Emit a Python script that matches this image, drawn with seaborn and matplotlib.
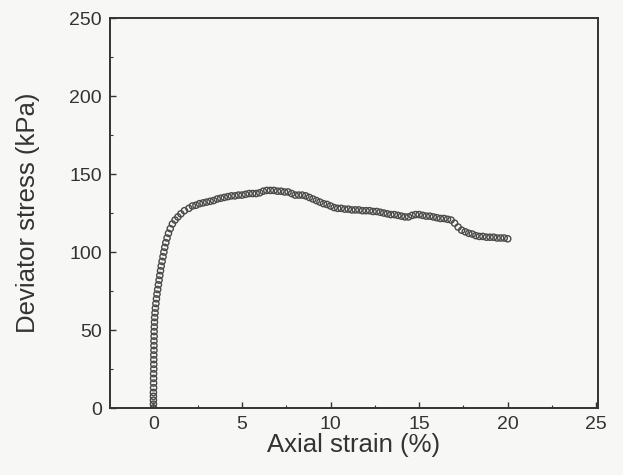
import matplotlib
matplotlib.use("Agg")
import matplotlib.pyplot as plt
from matplotlib.ticker import MultipleLocator
import seaborn as sns
import pandas as pd

strain = [0.00, 0.00, 0.00, 0.00, 0.00, 0.01, 0.01, 0.01, 0.01, 0.02, 0.02, 0.02, 0.02,
          0.03, 0.03, 0.03, 0.04, 0.04, 0.05, 0.06, 0.07, 0.09, 0.11, 0.14, 0.17, 0.20,
          0.24, 0.28, 0.32, 0.36, 0.40, 0.44, 0.49, 0.54, 0.59, 0.64, 0.70, 0.77, 0.85,
          0.95, 1.07, 1.22, 1.38, 1.55, 1.75,
          2.0, 2.2, 2.4, 2.6, 2.8, 3.0, 3.2, 3.4, 3.6, 3.8,
          4.0, 4.2, 4.4, 4.6, 4.8, 5.0, 5.2, 5.4, 5.6, 5.8,
          6.0, 6.2, 6.4, 6.6, 6.8, 7.0, 7.2, 7.4, 7.6, 7.8,
          8.0, 8.2, 8.4, 8.6, 8.8, 9.0, 9.2, 9.4, 9.6, 9.8,
          10.0, 10.2, 10.4, 10.6, 10.8, 11.0, 11.2, 11.4, 11.6, 11.8,
          12.0, 12.2, 12.4, 12.6, 12.8, 13.0, 13.2, 13.4, 13.6, 13.8,
          14.0, 14.2, 14.4, 14.6, 14.8, 15.0, 15.2, 15.4, 15.6, 15.8,
          16.0, 16.2, 16.4, 16.6, 16.8, 17.0, 17.2, 17.4, 17.6, 17.8,
          18.0, 18.2, 18.4, 18.6, 18.8, 19.0, 19.2, 19.4, 19.6, 19.8,
          20.0]
stress = [0, 2.5, 5, 7.5, 10, 13, 16, 19, 22, 25, 28, 31, 34,
          37, 40, 43, 46, 49, 52, 55, 58, 61, 64, 67, 70, 73,
          76, 79, 82, 85, 88, 91, 94, 97, 100, 103, 106, 109, 112,
          115, 118, 120.5, 122.5, 124.5, 126.5,
          128, 129.5, 130, 131, 131.5, 132, 132.5, 133, 134, 134.5,
          135, 135.5, 136, 136, 136.5, 136.5, 137, 137.5, 137.5, 137.5,
          138, 139, 139.5, 139.5, 139.5, 139, 139, 138.5, 138.5, 137.5,
          136.5, 136.5, 136.5, 136, 135, 134, 133, 132, 131, 130.5,
          129.5, 128.5, 128, 128, 127.5, 127.5, 127, 127, 127, 126.5,
          126.5, 126.5, 126, 126, 125.5, 125, 124.5, 124, 124, 123.5,
          123, 122.5, 122.5, 123.5, 124, 124, 123.5, 123, 123, 122.5,
          122, 121.5, 121.5, 121, 120.5, 118.5, 116, 114, 113, 112,
          111.5, 110.5, 110, 110, 109.5, 109.5, 109.5, 109, 109, 109,
          108.5]

x_ticks = [0, 5, 10, 15, 20, 25]
y_ticks = [0, 50, 100, 150, 200, 250]

df = pd.DataFrame({"strain": strain, "stress": stress})

sns.set_theme(style="white")
plt.rcParams["font.family"] = ["Liberation Sans", "DejaVu Sans"]

bg = "#f7f7f6"
ink = "#333333"
fig = plt.figure(figsize=(6.23, 4.75), dpi=100, facecolor=bg)
ax = fig.add_axes([0.1766, 0.141, 0.7834, 0.821])
ax.set_facecolor(bg)

sns.scatterplot(data=df, x="strain", y="stress", ax=ax, marker="o", s=20,
                facecolor="none", edgecolor="#4a4a4a", linewidth=1.0, legend=False)

ax.set_xlim(-2.45, 25.1)
ax.set_ylim(0, 250)
ax.set_xticks(x_ticks)
ax.set_yticks(y_ticks)
ax.xaxis.set_minor_locator(MultipleLocator(2.5))
ax.yaxis.set_minor_locator(MultipleLocator(25))
ax.tick_params(axis="both", which="both", direction="in", colors=ink,
               labelsize=14, top=False, right=False, bottom=True, left=True)
ax.tick_params(which="major", length=4, width=1)
ax.tick_params(which="minor", length=2.5, width=0.8)
ax.tick_params(axis="x", which="major", pad=6)
ax.tick_params(axis="y", which="major", pad=6)
for sp in ax.spines.values():
    sp.set_color(ink)
    sp.set_linewidth(1.4)

ax.set_xlabel("Axial strain (%)", fontsize=18.5, color=ink, labelpad=0)
ax.set_ylabel("Deviator stress (kPa)", fontsize=18.5, color=ink, labelpad=21)

fig.savefig("out.png", dpi=100, facecolor=bg)
